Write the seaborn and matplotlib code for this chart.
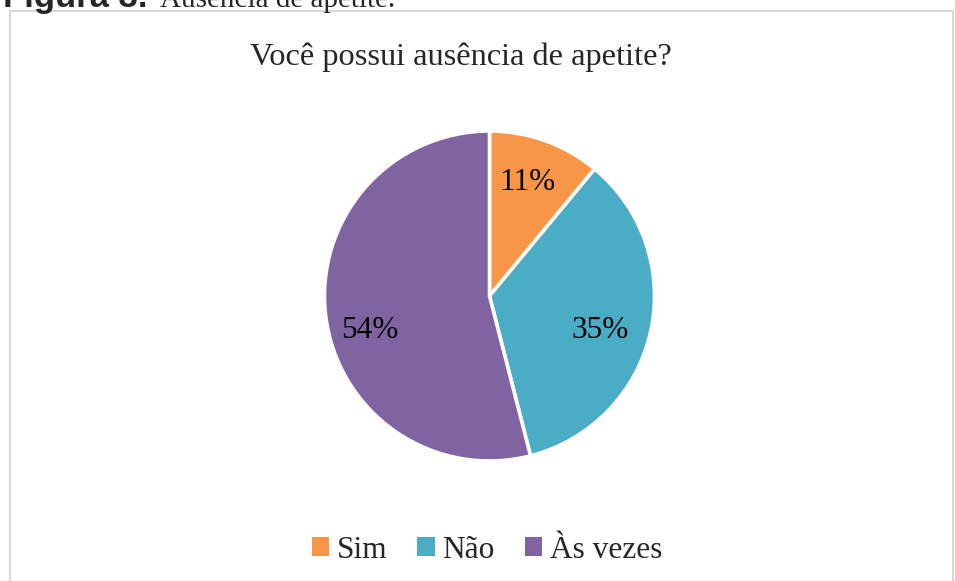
import matplotlib
matplotlib.use("Agg")
import matplotlib.pyplot as plt
from matplotlib.patches import Rectangle
import seaborn as sns

categories = ["Sim", "Não", "Às vezes"]
values = [11, 35, 54]
colors = ["#F79646", "#4BACC6", "#8064A2"]
title = "Você possui ausência de apetite?"
caption_bold = "Figura 3."
caption_rest = "Ausência de apetite."

sns.set_theme(style="white")
plt.rcParams['font.family'] = ['Liberation Serif', 'DejaVu Serif']

W, H = 955, 581
fig = plt.figure(figsize=(W / 100, H / 100), dpi=100)

# chart frame
fig.add_artist(Rectangle((10 / W, -0.01), (953 - 10) / W, (H - 11) / H + 0.01,
                         transform=fig.transFigure, fill=False,
                         edgecolor="#d9d9d9", linewidth=1.5))

# caption, cut off at the top edge as in the source image
fig.text(147 / W, 1 - 7 / H, caption_bold, fontsize=25, fontweight="bold",
         family=["Liberation Sans"], va="baseline", ha="right")
fig.text(160 / W, 1 - 7 / H, caption_rest, fontsize=21, va="baseline", ha="left")

cx, cy, r = 489.5, 296, 165
ax = fig.add_axes([(cx - r) / W, (H - cy - r) / H, 2 * r / W, 2 * r / H])
wedges, texts, autotexts = ax.pie(values, colors=colors, startangle=90, counterclock=False,
                                  autopct=lambda p: f"{p:.0f}%", pctdistance=0.73,
                                  wedgeprops=dict(edgecolor="white", linewidth=2.6),
                                  textprops=dict(fontsize=22.5, color="black"))
# small nudges to mimic the original label placement (axes data units)
nudges = [(-0.02, 0.0), (-0.04, -0.05), (0.0, -0.12)]
for t, (dx, dy) in zip(autotexts, nudges):
    x, y = t.get_position()
    t.set_position((x + dx, y + dy))
ax.set_xlim(-1.0, 1.0)
ax.set_ylim(-1.0, 1.0)
ax.set_aspect("equal")
ax.axis("off")

fig.text(461 / W, 1 - 65 / H, title, fontsize=23.3, ha="center", va="baseline")

leg = fig.legend(wedges, categories, loc="center", bbox_to_anchor=(487 / W, 1 - 550 / H),
                 ncol=3, frameon=False, fontsize=22.6, handlelength=0.55, handleheight=0.55,
                 handletextpad=0.25, columnspacing=0.95, borderpad=0)
for h in leg.legend_handles:
    h.set_edgecolor("none")

fig.savefig("out.png", dpi=100)
